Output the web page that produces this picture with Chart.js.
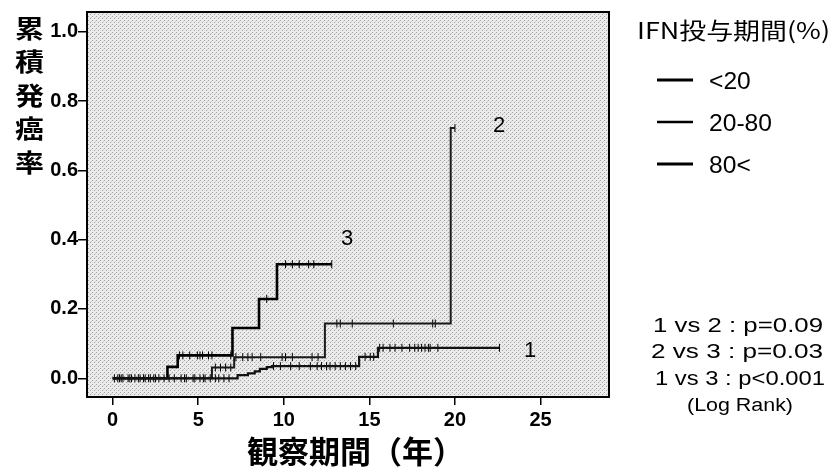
<!DOCTYPE html>
<html>
<head>
    <title>IFN投与期間別 累積発癌率</title>
    <script src="https://cdn.jsdelivr.net/npm/chart.js"></script>
    <style>
        body { margin: 0; background: #fff; }
    </style>
</head>
<body>
    <canvas id="myChart" width="834" height="473"></canvas>
    <script>
        // Kaplan-Meier steps: event times (years) and cumulative rate after each step
        const group1Times = [0, 7.3, 7.9, 8.3, 8.6, 9.0, 9.3, 14.4, 15.5, 22.6];
        const group1Rates = [0, 0.009, 0.014, 0.02, 0.027, 0.032, 0.035, 0.062, 0.088, 0.088];
        const group2Times = [0, 5.8, 7.1, 12.4, 19.75, 20.0];
        const group2Rates = [0, 0.031, 0.061, 0.158, 0.722, 0.722];
        const group3Times = [0, 3.2, 3.8, 7.0, 8.55, 9.6, 12.8];
        const group3Rates = [0, 0.033, 0.066, 0.145, 0.229, 0.329, 0.329];

        // censored observations (years)
        const group1Censored = [0.1, 0.4, 0.6, 0.9, 1.1, 1.3, 1.6, 1.9, 2.1, 2.4, 2.7, 3.3, 3.6, 4.0, 4.3, 4.7, 5.1, 5.4, 5.7, 6.0, 6.2, 6.5, 6.8,
            9.4, 9.8, 10.4, 10.9, 11.55, 11.95, 12.2, 12.5, 12.7, 13.0, 13.3, 13.6, 13.9, 14.2,
            14.75, 15.05, 15.25, 15.6, 15.8, 16.2, 16.5, 16.9, 17.35, 17.65, 17.85, 18.05, 18.25, 18.45, 18.55, 19.0, 22.6];
        const group2Censored = [0.5, 1.5, 2.2, 3.0, 4.2, 4.8, 5.3, 6.0, 6.3, 6.6, 6.9,
            7.2, 7.6, 7.9, 8.15, 8.65, 9.9, 10.1, 10.5, 11.65, 12.0, 13.1, 13.3, 14.0, 16.4, 18.7, 18.85, 20.0];
        const group3Censored = [0.3, 1.0, 1.8, 2.5, 3.9, 4.1, 4.5, 4.95, 5.1, 5.25, 5.6, 5.8, 6.9, 9.0,
            10.1, 10.5, 10.9, 11.45, 11.75, 12.8];

        const xTicks = [0, 5, 10, 15, 20, 25];
        const yTicks = [0, 0.2, 0.4, 0.6, 0.8, 1.0];

        const legendTitle = 'IFN投与期間(%)';
        const legendLabels = ['<20', '20-80', '80<'];
        const pValues = ['1 vs 2 : p=0.09', '2 vs 3 : p=0.03', '1 vs 3 : p<0.001'];

        const toPoints = (times, rates) => times.map((t, i) => ({ x: t, y: rates[i] }));

        function stepValue(times, rates, t) {
            let v = rates[0];
            for (let i = 0; i < times.length; i++) {
                if (times[i] <= t) v = rates[i];
            }
            return v;
        }
        const censorPoints = (cens, times, rates) => cens.map(t => ({ x: t, y: stepValue(times, rates, t) }));

        // stippled gray pattern for the plot area
        function makePattern(ctx) {
            const pc = document.createElement('canvas');
            pc.width = 4; pc.height = 4;
            const p = pc.getContext('2d');
            p.fillStyle = '#ebebeb';
            p.fillRect(0, 0, 4, 4);
            p.fillStyle = '#a4a4a4';
            p.fillRect(0, 0, 1, 1);
            p.fillRect(2, 2, 1, 1);
            p.fillStyle = '#d0d0d0';
            p.fillRect(3, 1, 1, 1);
            return ctx.createPattern(pc, 'repeat');
        }

        // text squeezed/stretched horizontally to a given width (the scan is a bit wide)
        function fitText(ctx, text, x, y, font, width) {
            ctx.font = font;
            const w = ctx.measureText(text).width;
            ctx.save();
            ctx.translate(x, y);
            ctx.scale(width / w, 1);
            ctx.fillText(text, 0, 0);
            ctx.restore();
            return width / w;
        }

        const decorations = {
            id: 'decorations',
            beforeDraw(chart) {
                const { ctx, chartArea: a } = chart;
                ctx.save();
                ctx.fillStyle = makePattern(ctx);
                ctx.fillRect(a.left, a.top, a.right - a.left, a.bottom - a.top);
                ctx.restore();
            },
            afterDraw(chart) {
                const { ctx, chartArea: a } = chart;
                ctx.save();
                ctx.strokeStyle = '#000';
                ctx.lineWidth = 2;
                ctx.strokeRect(a.left, a.top, a.right - a.left, a.bottom - a.top);

                ctx.fillStyle = '#000';
                ctx.textBaseline = 'middle';
                ctx.textAlign = 'left';

                // y title, stacked vertically
                const yTitle = '累積発癌率';
                [...yTitle].forEach((ch, i) => fitText(ctx, ch, 15, 28 + i * 33.5, 'bold 25px "Noto Sans CJK JP"', 29));

                // x title
                ctx.font = 'bold 31px "Noto Sans CJK JP"';
                ctx.fillText('観察期間（年）', 247, 451);

                // curve labels
                ctx.textAlign = 'center';
                ctx.font = '22px "Liberation Sans"';
                ctx.fillText('1', 530, 351);
                ctx.fillText('2', 499, 126);
                ctx.fillText('3', 347, 239);

                // legend
                ctx.textAlign = 'left';
                fitText(ctx, legendTitle, 637, 30, '23px "Noto Sans CJK JP"', 193);
                ctx.font = '24px "Liberation Sans"';
                const sx = 63 / ctx.measureText('20-80').width;
                const widths = [3, 2.5, 3];
                legendLabels.forEach((lab, i) => {
                    const y = 80 + i * 42;
                    ctx.beginPath();
                    ctx.lineWidth = widths[i];
                    ctx.moveTo(657, y);
                    ctx.lineTo(693, y);
                    ctx.stroke();
                    ctx.font = '24px "Liberation Sans"';
                    fitText(ctx, lab, 709, y + 2, '24px "Liberation Sans"', ctx.measureText(lab).width * sx);
                });

                // log rank results
                const pX = [653, 651, 655];
                const pW = [170, 172, 170];
                pValues.forEach((s, i) => fitText(ctx, s, pX[i], 326 + i * 26.5, '21px "Liberation Sans"', pW[i]));
                fitText(ctx, '(Log Rank)', 687, 406, '18px "Liberation Sans"', 106);
                ctx.restore();
            }
        };

        const lineDs = (label, pts, width, color) => ({
            type: 'line', label, data: pts, stepped: true, borderColor: color,
            borderWidth: width, pointRadius: 0, fill: false, tension: 0
        });
        const censorDs = (label, pts) => ({
            type: 'scatter', label, data: pts, pointStyle: 'line', rotation: 90,
            pointRadius: 4, borderColor: '#000', borderWidth: 1, backgroundColor: '#000'
        });

        const ctx = document.getElementById('myChart').getContext('2d');
        const myChart = new Chart(ctx, {
            type: 'line',
            data: {
                datasets: [
                    lineDs('<20', toPoints(group1Times, group1Rates), 2.2, '#111'),
                    lineDs('20-80', toPoints(group2Times, group2Rates), 2, '#1a1a1a'),
                    lineDs('80<', toPoints(group3Times, group3Rates), 2.6, '#000'),
                    censorDs('c1', censorPoints(group1Censored, group1Times, group1Rates)),
                    censorDs('c2', censorPoints(group2Censored, group2Times, group2Rates)),
                    censorDs('c3', censorPoints(group3Censored, group3Times, group3Rates))
                ]
            },
            options: {
                responsive: false,
                animation: false,
                layout: { padding: { top: 8, right: 225, left: 0, bottom: 0 } },
                plugins: { legend: { display: false }, tooltip: { enabled: false } },
                scales: {
                    x: {
                        type: 'linear', min: -1.5, max: 29,
                        afterFit: s => { s.height = 76; },
                        afterBuildTicks: s => { s.ticks = xTicks.map(v => ({ value: v })); },
                        grid: { drawOnChartArea: false, drawTicks: true, tickLength: 8, color: '#000', lineWidth: 1.5 },
                        border: { display: false },
                        ticks: { color: '#000', padding: 3, font: { family: 'Liberation Sans', size: 20, weight: 'bold' } }
                    },
                    y: {
                        type: 'linear', min: -0.054, max: 1.057,
                        afterFit: s => { s.width = 87; },
                        afterBuildTicks: s => { s.ticks = yTicks.map(v => ({ value: v })); },
                        grid: { drawOnChartArea: false, drawTicks: true, tickLength: 9, color: '#000', lineWidth: 1.5 },
                        border: { display: false },
                        ticks: {
                            color: '#000', padding: 0,
                            font: { family: 'Liberation Sans', size: 20, weight: 'bold' },
                            callback: v => v.toFixed(1)
                        }
                    }
                }
            },
            plugins: [decorations]
        });
    </script>
</body>
</html>
